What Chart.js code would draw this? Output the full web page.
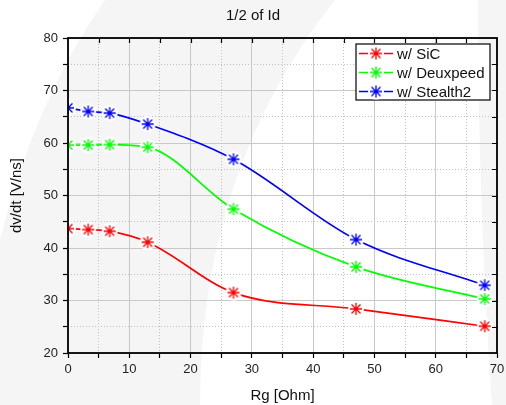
<!DOCTYPE html>
<html>
<head>
<meta charset="utf-8">
<script src="https://cdn.jsdelivr.net/npm/chart.js@4.4.0/dist/chart.umd.min.js"></script>
<style>
html, body { margin: 0; padding: 0; background: #fff; }
</style>
</head>
<body>
<canvas id="myChart" width="506" height="405"></canvas>
<script>
// Rg [Ohm] values and dv/dt [V/ns] per device
const rg = [0, 3.3, 6.8, 13, 27, 47, 68];
const sic = [43.7, 43.5, 43.2, 41.1, 31.5, 28.4, 25.1];
const deuxpeed = [59.6, 59.6, 59.7, 59.2, 47.4, 36.4, 30.3];
const stealth2 = [66.7, 66.0, 65.7, 63.6, 56.9, 41.6, 32.9];
const seriesNames = ['w/ SiC', 'w/ Deuxpeed', 'w/ Stealth2'];
const seriesColors = ['#ff0000', '#00ff00', '#0000ff'];
const FONT = "'Liberation Sans', Arial, sans-serif";

// asterisk marker with a small white halo so the line stops short of it
function starMarker(color) {
    const c = document.createElement('canvas');
    c.width = 18; c.height = 18;
    const g = c.getContext('2d');
    g.fillStyle = '#fff';
    g.beginPath(); g.arc(9, 9, 8, 0, Math.PI * 2); g.fill();
    g.strokeStyle = color;
    g.lineWidth = 1.3;
    g.beginPath();
    g.moveTo(3, 9); g.lineTo(15, 9);
    g.moveTo(9, 3); g.lineTo(9, 15);
    g.moveTo(4.5, 4.5); g.lineTo(13.5, 13.5);
    g.moveTo(13.5, 4.5); g.lineTo(4.5, 13.5);
    g.stroke();
    return c;
}
const markers = seriesColors.map(starMarker);

function toPoints(ys) {
    return rg.map((x, i) => ({x: x, y: ys[i]}));
}

// faint grey watermark behind the plot
const background = {
    id: 'background',
    beforeDraw(chart) {
        const ctx = chart.ctx;
        ctx.save();
        ctx.fillStyle = '#ffffff';
        ctx.fillRect(0, 0, chart.width, chart.height);
        ctx.fillStyle = '#f5f5f5';
        ctx.beginPath();
        ctx.moveTo(105, 0); ctx.lineTo(335, 0);
        ctx.quadraticCurveTo(200, 170, 200, 405);
        ctx.lineTo(0, 405);
        ctx.lineTo(0, 240);
        ctx.quadraticCurveTo(35, 100, 105, 0);
        ctx.closePath();
        ctx.fill();
        ctx.beginPath();
        ctx.moveTo(478, 0); ctx.lineTo(506, 0);
        ctx.lineTo(506, 405); ctx.lineTo(492, 405);
        ctx.quadraticCurveTo(478, 200, 478, 0);
        ctx.closePath();
        ctx.fill();
        ctx.restore();
    }
};

const frame = {
    id: 'frame',
    afterDatasetsDraw(chart) {
        const {ctx, chartArea: a, scales} = chart;
        ctx.save();
        ctx.strokeStyle = '#000';
        ctx.lineWidth = 1.2;
        // inward ticks on top and right edges
        ctx.beginPath();
        for (let v = 5; v < 70; v += 5) {
            const px = Math.round(scales.x.getPixelForValue(v)) + 0.5;
            ctx.moveTo(px, a.top); ctx.lineTo(px, a.top + 5);
        }
        for (let v = 25; v < 80; v += 5) {
            const py = Math.round(scales.y.getPixelForValue(v)) + 0.5;
            ctx.moveTo(a.right, py); ctx.lineTo(a.right - 5, py);
        }
        ctx.stroke();
        ctx.lineWidth = 1.8;
        ctx.strokeRect(a.left, a.top, a.right - a.left, a.bottom - a.top);
        ctx.restore();
    }
};

const boxLegend = {
    id: 'boxLegend',
    afterDraw(chart) {
        const {ctx, chartArea: a} = chart;
        const right = a.right - 7, top = a.top + 6;
        const left = right - 134, bottom = top + 56;
        ctx.save();
        ctx.fillStyle = '#fff';
        ctx.fillRect(left, top, right - left, bottom - top);
        ctx.strokeStyle = '#000';
        ctx.lineWidth = 1.2;
        ctx.strokeRect(left, top, right - left, bottom - top);
        ctx.font = '15px ' + FONT;
        ctx.textBaseline = 'middle';
        ctx.textAlign = 'left';
        seriesNames.forEach((name, i) => {
            const y = top + 9.5 + i * 19;
            ctx.strokeStyle = seriesColors[i];
            ctx.lineWidth = 1.6;
            ctx.beginPath();
            ctx.moveTo(left + 3, y); ctx.lineTo(left + 37, y);
            ctx.stroke();
            ctx.drawImage(markers[i], left + 20 - 9, y - 9);
            ctx.fillStyle = '#111';
            ctx.fillText(name, left + 41, y + 1);
        });
        ctx.restore();
    }
};

const ctx = document.getElementById('myChart');
const datasets = [sic, deuxpeed, stealth2].map((ys, i) => ({
    label: seriesNames[i],
    data: toPoints(ys),
    borderColor: seriesColors[i],
    backgroundColor: seriesColors[i],
    borderWidth: 1.7,
    cubicInterpolationMode: 'monotone',
    pointStyle: markers[i],
    pointRadius: 6,
    clip: 0
}));

const gridColor = (c) => (c.tick && c.tick.value % 10 === 0) ? '#c9c9c9' : '#c0c0c0';
const gridDash = (c) => (c.tick && c.tick.value % 10 === 0) ? [] : [1, 2];

new Chart(ctx, {
    type: 'line',
    data: { datasets: datasets },
    options: {
        responsive: false,
        animation: false,
        layout: { padding: 0 },
        plugins: {
            legend: { display: false },
            tooltip: { enabled: false },
            title: {
                display: true,
                text: '1/2 of Id',
                color: '#111',
                font: { family: FONT, size: 15, weight: 'normal' },
                padding: { top: 7, bottom: 13 }
            }
        },
        scales: {
            x: {
                type: 'linear',
                min: 0, max: 70,
                afterFit: (s) => { s.height = 52; s.paddingRight = 9; },
                ticks: {
                    stepSize: 5,
                    maxRotation: 0,
                    padding: 4,
                    color: '#222',
                    font: { family: FONT, size: 13 },
                    callback: (v) => v % 10 === 0 ? v : ''
                },
                grid: {
                    color: gridColor,
                    lineWidth: 1,
                    tickColor: '#000',
                    tickLength: 5,
                    tickWidth: 1.2
                },
                border: { display: false, dash: gridDash },
                title: {
                    display: true,
                    text: 'Rg [Ohm]',
                    color: '#111',
                    font: { family: FONT, size: 15 },
                    padding: { top: 0, bottom: 0 }
                }
            },
            y: {
                min: 20, max: 80,
                afterFit: (s) => { s.width = 68; },
                ticks: {
                    stepSize: 5,
                    padding: 5,
                    color: '#222',
                    font: { family: FONT, size: 13 },
                    callback: (v) => v % 10 === 0 ? v : ''
                },
                grid: {
                    color: gridColor,
                    lineWidth: 1,
                    tickColor: '#000',
                    tickLength: 5,
                    tickWidth: 1.2
                },
                border: { display: false, dash: gridDash },
                title: {
                    display: true,
                    text: 'dv/dt [V/ns]',
                    color: '#111',
                    font: { family: FONT, size: 15 },
                    padding: { top: 8, bottom: 0 }
                }
            }
        }
    },
    plugins: [background, frame, boxLegend]
});
</script>
</body>
</html>
